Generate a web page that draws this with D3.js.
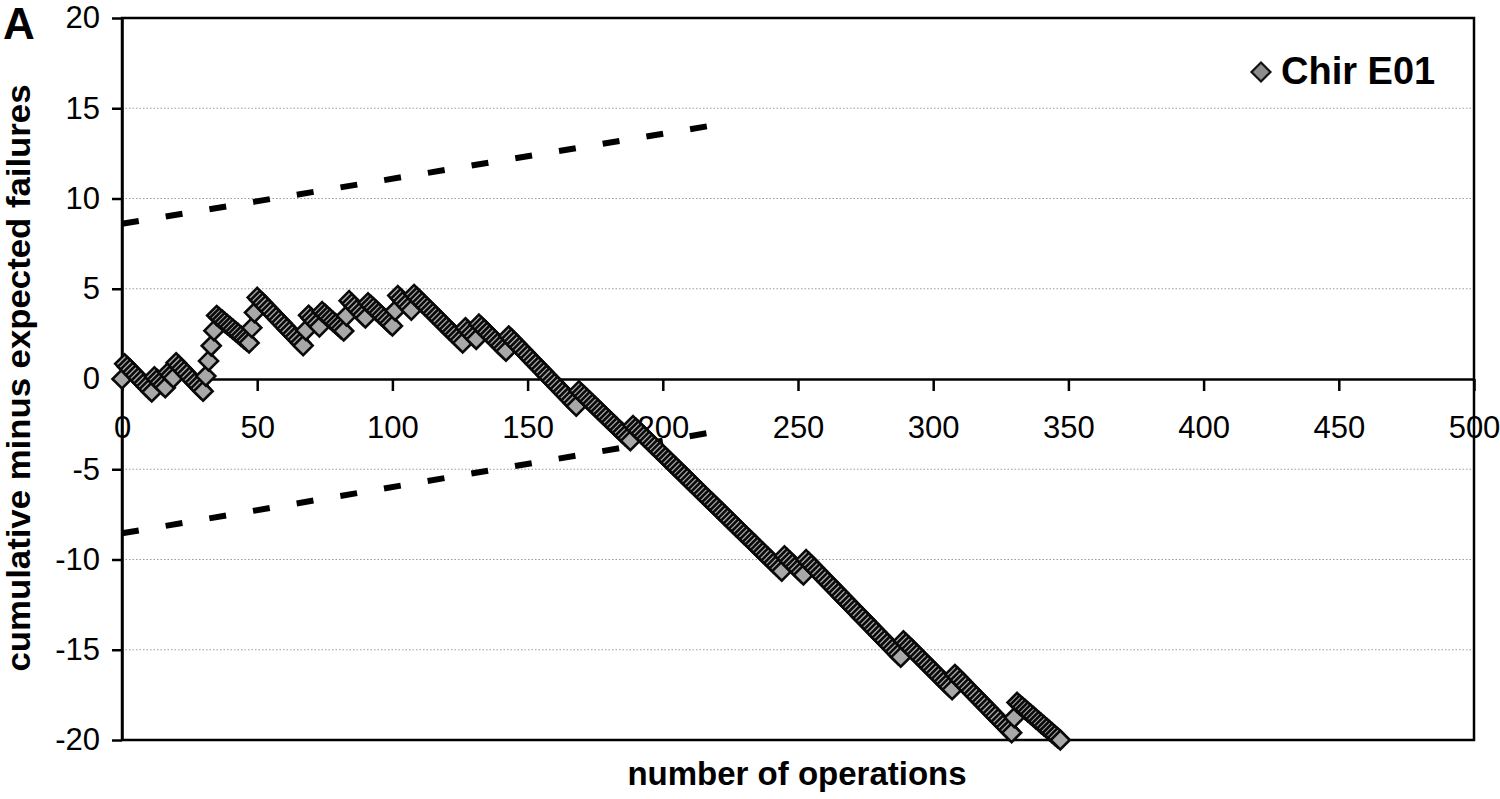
<!DOCTYPE html>
<html><head><meta charset="utf-8">
<script src="https://cdn.jsdelivr.net/npm/d3@7"></script>
<style>body{margin:0;background:#fff}svg{display:block}</style>
</head><body>
<svg id="c" width="1500" height="799"></svg>
<script>
const panelLabel = "A";
const seriesName = "Chir E01";
const xTitle = "number of operations";
const yTitle = "cumulative minus expected failures";
// cumulative observed minus expected failures, one value per operation (0..347)
const cusum = [
  0.00, 0.84, 0.68, 0.53, 0.37, 0.22, 0.06, -0.09, -0.25, -0.41, -0.56, -0.72,
  0.12, -0.03, -0.18, -0.33, -0.48, 0.36, 0.21, 0.06, 0.90,
  0.74, 0.58, 0.43, 0.27, 0.11, -0.05, -0.21, -0.36, -0.52, -0.68,
  0.16, 1.00, 1.84, 2.68, 3.52,
  3.39, 3.27, 3.14, 3.01, 2.89, 2.76, 2.63, 2.51, 2.38, 2.25, 2.13, 2.00,
  2.84, 3.68, 4.52,
  4.36, 4.21, 4.05, 3.89, 3.74, 3.58, 3.42, 3.26, 3.11, 2.95, 2.79, 2.64, 2.48, 2.32, 2.17, 2.01, 1.85,
  2.69, 3.53, 3.37, 3.21, 3.05, 2.89, 3.73,
  3.60, 3.46, 3.33, 3.19, 3.06, 2.93, 2.79, 2.66, 3.50, 4.34,
  4.18, 4.02, 3.86, 3.70, 3.54, 3.38, 4.22,
  4.08, 3.94, 3.79, 3.65, 3.51, 3.37, 3.23, 3.08, 2.94, 3.78, 4.62,
  4.46, 4.30, 4.14, 3.98, 3.82, 4.68,
  4.53, 4.38, 4.23, 4.08, 3.94, 3.79, 3.64, 3.49, 3.34, 3.19, 3.04, 2.89, 2.74, 2.59, 2.45, 2.30, 2.15, 2.00,
  2.84, 2.68, 2.52, 2.36, 2.20, 3.04,
  2.89, 2.74, 2.59, 2.44, 2.29, 2.14, 1.99, 1.84, 1.69, 1.54, 2.38,
  2.23, 2.07, 1.92, 1.76, 1.61, 1.45, 1.30, 1.14, 0.99, 0.83, 0.68, 0.52, 0.37, 0.21, 0.06,
  -0.10, -0.25, -0.41, -0.56, -0.72, -0.87, -1.03, -1.18, -1.34, -1.50,
  -0.66, -0.81, -0.95, -1.10, -1.24, -1.39, -1.53, -1.68, -1.82, -1.97, -2.11, -2.26, -2.40,
  -2.55, -2.69, -2.84, -2.98, -3.13, -3.27, -3.42, -2.58,
  -2.73, -2.87, -3.02, -3.17, -3.31, -3.46, -3.61, -3.75, -3.90, -4.04, -4.19, -4.34, -4.48,
  -4.63, -4.78, -4.92, -5.07, -5.22, -5.36, -5.51, -5.66, -5.80, -5.95, -6.10, -6.24, -6.39,
  -6.54, -6.68, -6.83, -6.97, -7.12, -7.27, -7.41, -7.56, -7.71, -7.85, -8.00, -8.15, -8.29,
  -8.44, -8.59, -8.73, -8.88, -9.03, -9.17, -9.32, -9.47, -9.61, -9.76, -9.90, -10.05, -10.20,
  -10.34, -10.49, -10.64,
  -9.80, -9.95, -10.10, -10.25, -10.40, -10.55, -10.70, -10.85, -10.01,
  -10.16, -10.32, -10.47, -10.63, -10.78, -10.94, -11.09, -11.24, -11.40, -11.55, -11.71, -11.86,
  -12.02, -12.17, -12.32, -12.48, -12.63, -12.79, -12.94, -13.10, -13.25, -13.40, -13.56, -13.71,
  -13.87, -14.02, -14.18, -14.33, -14.48, -14.64, -14.79, -14.95, -15.10, -15.26, -15.41,
  -14.51, -14.66, -14.81, -14.96, -15.11, -15.26, -15.41, -15.56, -15.71, -15.86, -16.01, -16.16,
  -16.31, -16.46, -16.61, -16.76, -16.91, -17.06, -17.21, -16.37,
  -16.52, -16.68, -16.83, -16.99, -17.14, -17.29, -17.45, -17.60, -17.76, -17.91, -18.06, -18.22,
  -18.37, -18.53, -18.68, -18.83, -18.99, -19.14, -19.30, -19.45, -19.60, -18.76, -17.92,
  -18.05, -18.18, -18.31, -18.44, -18.57, -18.70, -18.83, -18.96, -19.09, -19.22, -19.35, -19.48,
  -19.61, -19.74, -19.87, -20.00
];
const limitOps = [0, 216.5];
const upperLimit = [8.6, 14.0];
const lowerLimit = [-8.55, -3.0];
const xTicks = [0, 50, 100, 150, 200, 250, 300, 350, 400, 450, 500];
const yTicks = [-20, -15, -10, -5, 0, 5, 10, 15, 20];
const gridValues = [15, 10, 5, -5, -10, -15];

const font = "'Liberation Sans', Arial, Helvetica, sans-serif";
const svg = d3.select("#c");
const x = d3.scaleLinear().domain([0, 500]).range([122, 1474]);
const y = d3.scaleLinear().domain([-20, 20]).range([740, 18]);

// gridlines
svg.append("g").selectAll("line").data(gridValues).join("line")
  .attr("x1", x(0)).attr("x2", x(500))
  .attr("y1", d => y(d)).attr("y2", d => y(d))
  .attr("stroke", "#9a9a9a").attr("stroke-width", 1.2)
  .attr("stroke-dasharray", "1.5,2");

// plot border
svg.append("rect")
  .attr("x", x(0)).attr("y", y(20))
  .attr("width", x(500) - x(0)).attr("height", y(-20) - y(20))
  .attr("fill", "none").attr("stroke", "#000").attr("stroke-width", 2.5);

const fmt = d => String(d);
// y axis
const yAxis = svg.append("g").attr("transform", `translate(${x(0)},0)`)
  .call(d3.axisLeft(y).tickValues(yTicks).tickFormat(fmt).tickSize(10).tickSizeOuter(0).tickPadding(12));
// x axis at y = 0
const xAxis = svg.append("g").attr("transform", `translate(0,${y(0)})`)
  .call(d3.axisBottom(x).tickValues(xTicks).tickFormat(fmt).tickSize(12).tickSizeOuter(0).tickPadding(25));
[yAxis, xAxis].forEach(g => {
  g.select(".domain").attr("stroke", "#000").attr("stroke-width", 2.5);
  g.selectAll(".tick line").attr("stroke", "#000").attr("stroke-width", 2.5);
  g.selectAll(".tick text").attr("fill", "#000")
    .style("font-family", font).style("font-size", "31px");
});

// control limits (dashed)
const limLine = d3.line().x(d => x(d[0])).y(d => y(d[1]));
[upperLimit, lowerLimit].forEach(lim => {
  svg.append("path")
    .attr("d", limLine(limitOps.map((o, i) => [o, lim[i]])))
    .attr("fill", "none").attr("stroke", "#000").attr("stroke-width", 6)
    .attr("stroke-dasharray", "17,27.3");
});

// diamonds
const dia = r => `M0,${-r}L${r},0L0,${r}L${-r},0Z`;
svg.append("g").selectAll("path").data(cusum).join("path")
  .attr("d", dia(9.5))
  .attr("transform", (d, i) => `translate(${x(i)},${y(d)})`)
  .attr("fill", "#a8a8a8").attr("stroke", "#0a0a0a").attr("stroke-width", 2.6);

// legend
svg.append("path").attr("d", dia(9.5))
  .attr("transform", "translate(1261,72)")
  .attr("fill", "#8c8c8c").attr("stroke", "#111").attr("stroke-width", 2.2);
svg.append("text").attr("x", 1281).attr("y", 84)
  .style("font-family", font).style("font-size", "38px").style("font-weight", "bold")
  .text(seriesName);

// panel label
svg.append("text").attr("x", 3).attr("y", 39)
  .style("font-family", font).style("font-size", "44px").style("font-weight", "bold")
  .text(panelLabel);

// axis titles
svg.append("text").attr("x", 797).attr("y", 785).attr("text-anchor", "middle")
  .style("font-family", font).style("font-size", "33px").style("font-weight", "bold")
  .text(xTitle);
svg.append("text").attr("transform", "translate(30,378) rotate(-90)")
  .attr("text-anchor", "middle")
  .attr("textLength", 587).attr("lengthAdjust", "spacingAndGlyphs")
  .style("font-family", font).style("font-size", "33px").style("font-weight", "bold")
  .text(yTitle);
</script>
</body></html>
